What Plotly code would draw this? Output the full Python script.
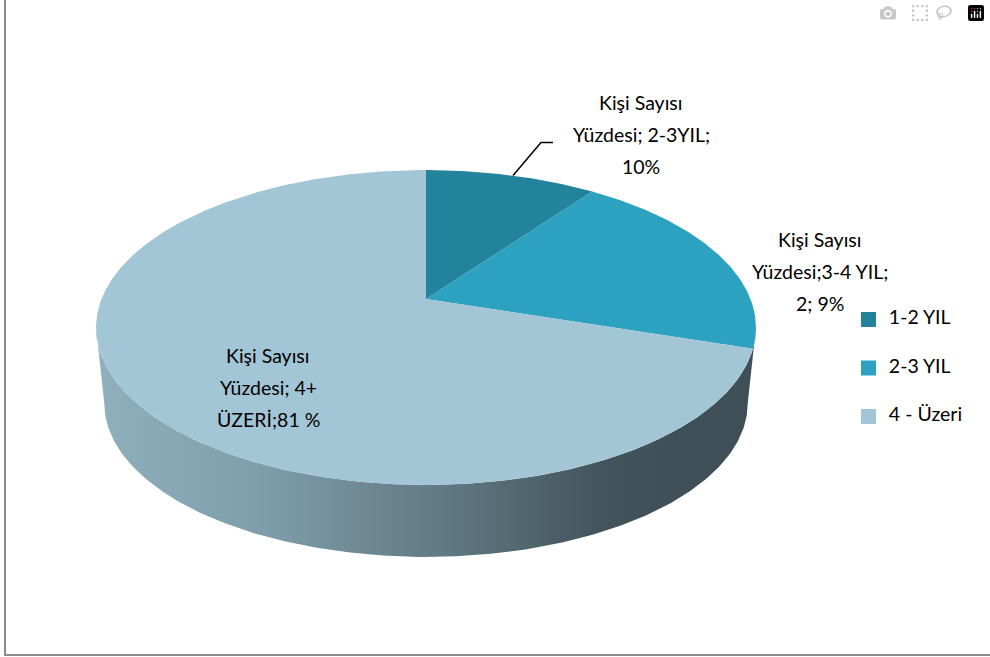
import numpy as np
import plotly.graph_objects as go

# ---- data ----
categories = ["1-2 YIL", "2-3 YIL", "4 - Üzeri"]
values = [10, 20, 70]
colors = ["#23829c", "#2ca1c0", "#a2c6d6"]
label_lines = [
    ["Kişi Sayısı", "Yüzdesi; 2-3YIL;", "10%"],
    ["Kişi Sayısı", "Yüzdesi;3-4 YIL;", "2; 9%"],
    ["Kişi Sayısı", "Yüzdesi; 4+", "ÜZERİ;81 %"],
]
label_centers = [(641, 102), (820, 239), (268, 355)]

# ---- pie projection (perspective view of a tilted disc) ----
CX, CY = 426.0, 299.0
A, B, K = 324.5, 152.3, 0.181
BOTTOM_SCALE, BOTTOM_CY = 0.975, 375.6
LINE_GAP = 32
FONT = "Lato"
FS = 19.5


def project(theta, scale=1.0, cy=CY):
    d = 1 + K * np.cos(theta)
    return CX + scale * A * np.sin(theta) / d, cy - scale * B * np.cos(theta) / d


fig = go.Figure()

# side wall (gradient), between the two tangent points of the disc
t0 = np.arccos(-K)
t1 = 2 * np.pi - t0
ts = np.linspace(t0, t1, 240)
xt, yt = project(ts)
xb, yb = project(ts[::-1], BOTTOM_SCALE, BOTTOM_CY)
fig.add_trace(go.Scatter(
    x=np.r_[xt, xb], y=np.r_[yt, yb], mode="lines", line=dict(width=0),
    fill="toself", hoverinfo="skip", showlegend=False,
    fillgradient=dict(
        type="horizontal",
        colorscale=[[0, "#8fafbd"], [0.25, "#81a0ad"], [0.6, "#5f7781"],
                    [0.85, "#43545c"], [1, "#3f4f57"]],
        start=100, stop=690,
    ),
))

# top face slices, one per value
fractions = np.cumsum([0] + values) / sum(values)
for name, col, f0, f1 in zip(categories, colors, fractions[:-1], fractions[1:]):
    th = np.linspace(f0, f1, max(int((f1 - f0) * 720), 8)) * 2 * np.pi
    x, y = project(th)
    fig.add_trace(go.Scatter(
        x=np.r_[CX, x, CX], y=np.r_[CY, y, CY], mode="lines", line=dict(width=0),
        fill="toself", fillcolor=col, name=name, hoverinfo="name", showlegend=False,
    ))

# leader line of the first label
fig.add_trace(go.Scatter(
    x=[513, 541, 553], y=[175.5, 142.5, 142.5], mode="lines",
    line=dict(color="#000000", width=1.5), hoverinfo="skip", showlegend=False,
))

# legend entries
LEG_X, LEG_Y, LEG_GAP = 868.5, 319.5, 48.5
for i, (name, col) in enumerate(zip(categories, colors)):
    fig.add_trace(go.Scatter(
        x=[LEG_X], y=[LEG_Y + i * LEG_GAP], mode="markers+text",
        marker=dict(symbol="square", size=15, color=col, line=dict(width=0)),
        text=["  " + name], textposition="middle right",
        textfont=dict(family=FONT, size=FS, color="#000000"),
        name=name, showlegend=False, hoverinfo="name",
    ))

# data labels
annotations = []
for lines, (lx, ly) in zip(label_lines, label_centers):
    for j, line in enumerate(lines):
        annotations.append(dict(
            x=lx, y=ly + j * LINE_GAP, text=line, showarrow=False,
            xanchor="center", yanchor="middle", xref="x", yref="y",
            font=dict(family=FONT, size=FS, color="#000000"),
        ))

frame = dict(type="line", xref="x", yref="y", line=dict(color="#8c8c8c", width=2))
fig.update_layout(
    width=990, height=657, margin=dict(l=0, r=0, t=0, b=0),
    paper_bgcolor="#ffffff", plot_bgcolor="#ffffff", showlegend=False,
    xaxis=dict(range=[0, 990], visible=False, fixedrange=True),
    yaxis=dict(range=[657, 0], visible=False, fixedrange=True),
    annotations=annotations,
    shapes=[
        dict(frame, x0=5, x1=5, y0=0, y1=655),
        dict(frame, x0=4, x1=990, y0=655, y1=655),
    ],
)

fig.write_html("out.html", post_script="document.body.style.margin='0';document.body.style.overflow='hidden';")
